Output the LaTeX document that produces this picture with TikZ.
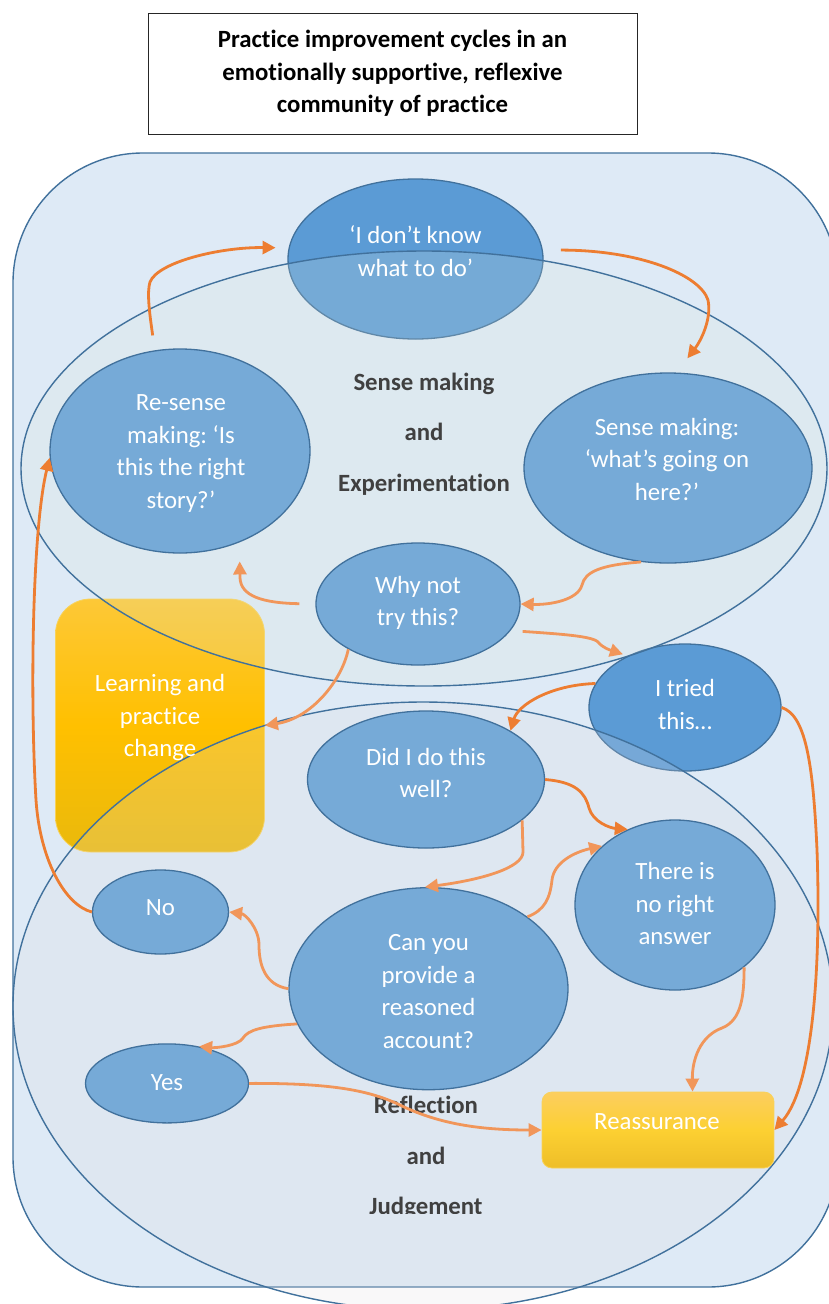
\documentclass[tikz,border=0pt]{standalone}
\usepackage{fontspec}
\setmainfont{Carlito}[Ligatures={NoCommon}]
\frenchspacing
\usetikzlibrary{shapes.geometric,arrows.meta}
\definecolor{bgblue}{RGB}{222,234,246}
\definecolor{edgeblue}{RGB}{65,113,156}
\definecolor{darkfill}{RGB}{91,155,213}
\definecolor{midfill}{RGB}{118,170,215}
\definecolor{ovtop}{RGB}{221,230,218}
\definecolor{ovbot}{RGB}{226,222,225}
\definecolor{arrowA}{RGB}{237,125,49}
\definecolor{arrowB}{RGB}{241,150,90}
\definecolor{labelgray}{RGB}{64,64,64}
\definecolor{goldtop}{RGB}{253,200,55}
\definecolor{goldmid}{RGB}{255,192,0}
\definecolor{goldbot}{RGB}{234,185,12}
\definecolor{reasstop}{RGB}{252,206,95}
\definecolor{reassmid}{RGB}{252,208,50}
\definecolor{reassbot}{RGB}{238,190,40}
\definecolor{goldedge}{RGB}{248,210,90}
\begin{document}
\begin{tikzpicture}[x=1pt,y=-1pt,
  bubble/.style={ellipse, draw=edgeblue, line width=1.3pt, fill=midfill, inner sep=0pt},
  darkbubble/.style={bubble, fill=darkfill},
  overlay/.style={ellipse, draw=edgeblue, line width=1.4pt, fill opacity=0.2, inner sep=0pt},
  txt/.style={text=white, align=center, font=\fontsize{24.8}{32.5}\selectfont, inner sep=0pt},
  lbl/.style={text=labelgray, align=center, font=\bfseries\fontsize{24.8}{50.5}\selectfont, inner sep=0pt},
  conn/.style={draw=arrowA, line width=2.8pt, -{Triangle[length=13pt,width=13pt]}},
  connl/.style={conn, draw=arrowB},
]
\useasboundingbox (0,0) rectangle (829,1304);
\clip (0,0) rectangle (829,1304);

% outer community frame
\draw[fill=bgblue, draw=edgeblue, line width=1.4pt, rounded corners=130pt] (13,153) rectangle (838,1287);

% title
\node[draw=black!85, line width=1pt, fill=white, minimum width=489pt, minimum height=121pt,
      align=center, inner sep=0pt, font=\bfseries\fontsize{24.8}{32.5}\selectfont] (title) at (392.5,73.5)
  {Practice improvement cycles in an\\emotionally supportive, reflexive\\community of practice};

% shapes lying under the two big ellipses
\node[darkbubble, minimum width=255pt, minimum height=160pt] (idk) at (415.5,259) {};
\node[darkbubble, minimum width=192pt, minimum height=127pt] (itried) at (685,707.5) {};
\node[rounded corners=35pt, minimum width=209pt, minimum height=253pt, draw=goldedge, line width=0.8pt,
      top color=goldtop, bottom color=goldbot, middle color=goldmid] (learn) at (160,725.5) {};

% the two big ellipses
\node[overlay, fill=ovtop, minimum width=806pt, minimum height=435pt] (sense) at (424,468.5) {};
\node[overlay, fill=ovbot, minimum width=820pt, minimum height=608pt] (reflect) at (423,1006) {};

% inner bubbles
\node[bubble, minimum width=260pt, minimum height=204pt] (resense) at (180,451) {};
\node[bubble, minimum width=288pt, minimum height=190pt] (sm) at (668,468) {};
\node[bubble, minimum width=204pt, minimum height=122pt] (whynot) at (418,604) {};
\node[bubble, minimum width=237pt, minimum height=137pt] (didI) at (426,779.5) {};
\node[bubble, minimum width=200pt, minimum height=170pt] (thereis) at (675,905) {};
\node[bubble, minimum width=136pt, minimum height=84pt] (no) at (160.5,912) {};
\node[bubble, minimum width=279pt, minimum height=202pt] (canyou) at (428.5,988.7) {};
\node[bubble, minimum width=163pt, minimum height=79pt] (yes) at (167,1083.4) {};
\node[rounded corners=10pt, minimum width=232pt, minimum height=76pt, draw=goldedge, line width=0.8pt,
      top color=reasstop, bottom color=reassbot, middle color=reassmid] (reass) at (658,1130) {};

% texts
\node[txt] (idkT) at (415.5,251) {‘I don’t know\\what to do’};
\node[txt] (resenseT) at (181,453.5) {Re-sense\\making: ‘Is\\this the right\\story?’};
\node[txt] (smT) at (667,459) {Sense making:\\‘what’s going on\\here?’};
\node[txt] (whynotT) at (418,603) {Why not\\try this?};
\node[txt] (itriedT) at (685,704.6) {I tried\\this…};
\node[txt] (learnT) at (160,718) {Learning and\\practice\\change};
\node[txt] (didIT) at (426,772.8) {Did I do this\\well?};
\node[txt] (thereisT) at (675,903.5) {There is\\no right\\answer};
\node[txt] (noT) at (160.5,907.6) {No};
\node[txt] (canyouT) at (428.5,991.5) {Can you\\provide a\\reasoned\\account?};
\node[txt] (yesT) at (167,1082.5) {Yes};
\node[txt] (reassT) at (657,1121.5) {Reassurance};
\node[lbl] (senseT) at (424,434) {Sense making\\and\\Experimentation};
\begin{scope}
\clip (0,0) rectangle (829,1213);
\node[lbl] (reflectT) at (426,1157.5) {Reflection\\and\\Judgement};
\end{scope}

% connectors
\draw[conn, shorten <=15pt, shorten >=13pt] (resense.104) .. controls (149,310) and (147,292) .. (150,282)
   .. controls (158,262) and (220,247) .. (idk.175);
\draw[conn, shorten <=18pt, shorten >=18pt] (idk.4) .. controls (640,250) and (700,275) .. (708,300)
   .. controls (712,320) and (700,342) .. (sm.85);
\draw[connl] (sm.254) .. controls (600,565) and (585,572) .. (582,585)
   .. controls (578,600) and (550,605) .. (whynot.0);
\draw[connl, shorten <=16pt, shorten >=19pt] (whynot.180) .. controls (262,603) and (241,596) .. (240,578) -- (resense.303);
\draw[connl, shorten <=12pt, shorten >=5pt] (whynot.344) .. controls (560,634) and (592,636) .. (598,642)
   .. controls (603,648) and (610,650) .. (itried.138);
\draw[connl] (whynot.213) .. controls (342,680) and (312,718) .. (learn.east);
\draw[conn] (itried.165) .. controls (550,685) and (518,705) .. (didI.30);
\draw[conn] (itried.0) .. controls (805,715) and (813,760) .. (817,850)
   .. controls (821,960) and (814,1085) .. (reass.east);
\draw[conn] (no.west) .. controls (65,905) and (40,860) .. (36,800)
   .. controls (30,700) and (32,530) .. (resense.183);
\draw[conn] (didI.0) .. controls (575,782) and (585,792) .. (589,808)
   .. controls (593,822) and (610,828) .. (thereis.122);
\draw[connl] (didI.337) -- (523,852) .. controls (523,868) and (480,880) .. (canyou.92);
\draw[connl] (canyou.36) .. controls (545,910) and (550,898) .. (552,880)
   .. controls (554,862) and (575,852) .. (thereis.141);
\draw[connl] (canyou.180) .. controls (265,985) and (259,965) .. (259,945)
   .. controls (259,928) and (245,914) .. (no.east);
\draw[connl] (canyou.195) .. controls (262,1026) and (248,1030) .. (243,1038)
   .. controls (238,1046) and (215,1048) .. (yes.49);
\draw[connl] (yes.east) .. controls (330,1083) and (370,1090) .. (402,1106)
   .. controls (440,1124) and (480,1130) .. (reass.west);
\draw[connl] (thereis.318) .. controls (744,995) and (742,1020) .. (722,1028)
   .. controls (700,1036) and (692,1060) .. (reass.48);
\end{tikzpicture}
\end{document}
